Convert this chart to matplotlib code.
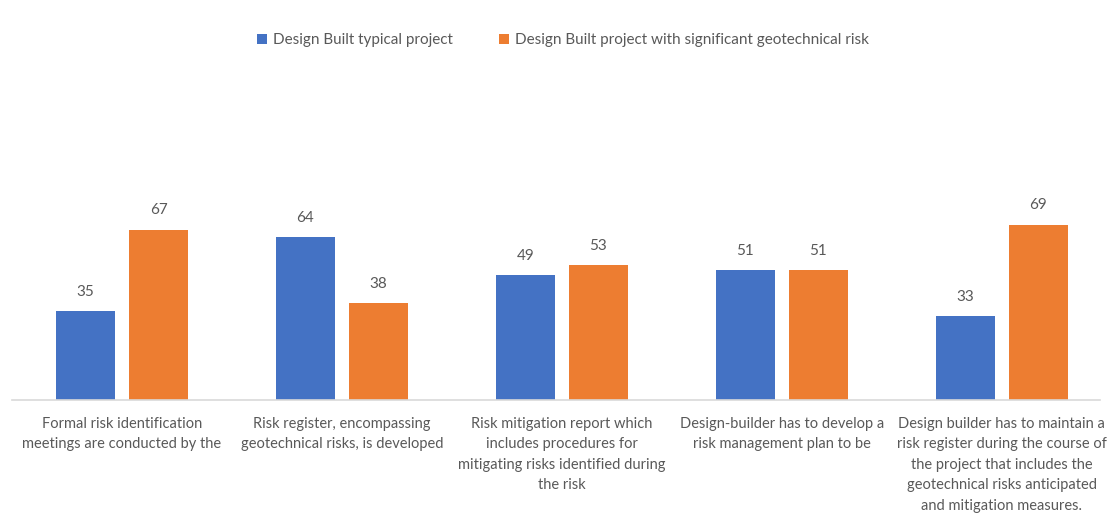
import matplotlib.pyplot as plt
import numpy as np

categories = [
    "Formal risk identification\nmeetings are conducted by the",
    "Risk register, encompassing\ngeotechnical risks, is developed",
    "Risk mitigation report which\nincludes procedures for\nmitigating risks identified during\nthe risk",
    "Design-builder has to develop a\nrisk management plan to be",
    "Design builder has to maintain a\nrisk register during the course of\nthe project that includes the\ngeotechnical risks anticipated\nand mitigation measures.",
]
series_names = ["Design Built typical project",
                "Design Built project with significant geotechnical risk"]
typical = [35, 64, 49, 51, 33]
geo_risk = [67, 38, 53, 51, 69]

blue = "#4472c4"
orange = "#ed7d31"
grey = "#595959"

plt.rcParams['font.family'] = ['Lato', 'DejaVu Sans']

fig = plt.figure(figsize=(11.1, 5.25), dpi=100)
ax = fig.add_axes([12 / 1110, 125 / 525, 1088 / 1110, 310 / 525])

x = np.arange(len(categories))
w = 0.268
off = 0.166
b1 = ax.bar(x - off, typical, w, color=blue, label=series_names[0])
b2 = ax.bar(x + off, geo_risk, w, color=orange, label=series_names[1])

for bars in (b1, b2):
    for rect in bars:
        h = rect.get_height()
        ax.annotate(f"{h:g}", (rect.get_x() + rect.get_width() / 2, h),
                    xytext=(0, 9), textcoords="offset points",
                    ha="center", va="bottom", fontsize=11, color=grey)

ax.set_xlim(-0.5, 4.446)
ax.set_ylim(0, 122)
ax.set_yticks([])
ax.set_xticks(x)
ax.set_xticklabels(categories, fontsize=10.5, color=grey, linespacing=1.6)
ax.tick_params(axis="x", length=0, pad=12)
for s in ["top", "right", "left"]:
    ax.spines[s].set_visible(False)
ax.spines["bottom"].set_color("#d9d9d9")
ax.spines["bottom"].set_linewidth(1.2)

fig.legend(handles=[b1, b2], labels=series_names, loc="center",
           bbox_to_anchor=(0.507, 1 - 40 / 525), ncol=2, frameon=False,
           fontsize=11, handlelength=0.65, handleheight=0.65,
           handletextpad=0.4, columnspacing=3.0, labelcolor=grey)

fig.savefig("out.png", dpi=100)
